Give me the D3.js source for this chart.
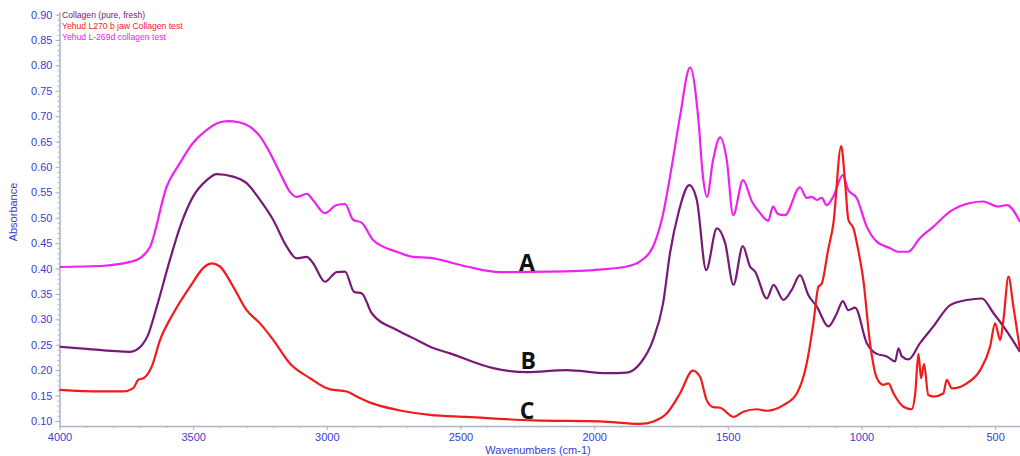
<!DOCTYPE html>
<html>
<head>
<meta charset="utf-8">
<script src="https://cdn.jsdelivr.net/npm/d3@7"></script>
<style>
  html, body { margin: 0; padding: 0; background: #fff; }
  svg { display: block; font-family: "Liberation Sans", Arial, sans-serif; }
  .axis path, .axis line { stroke: #aab2cc; }
  .axis text { fill: #3c3cd2; font-size: 11px; }
</style>
</head>
<body>
<svg id="chart" width="1020" height="456"></svg>
<script>
// FTIR spectra (wavenumber cm-1, absorbance)
const seriesNames = ['Collagen (pure, fresh)', 'Yehud L270 b jaw Collagen test', 'Yehud L-269d collagen test']
const seriesColors = ['#761a76', '#f21a1a', '#ee22ee']

// A: Yehud L-269d (magenta)
const waveA = [4000, 3848, 3736, 3692, 3661, 3599, 3549, 3501, 3449, 3405, 3370, 3330, 3287, 3250, 3212, 3175, 3138, 3113, 3075, 3052, 3007, 2963, 2932, 2902, 2869, 2827, 2739, 2677, 2614, 2477, 2352, 2165, 1978, 1878, 1828, 1780, 1747, 1710, 1679, 1641, 1611, 1593, 1578, 1555, 1529, 1504, 1480, 1443, 1410, 1379, 1349, 1331, 1312, 1286, 1230, 1205, 1186, 1167, 1149, 1130, 1106, 1070, 1050, 1018, 980, 943, 893, 863, 826, 781, 732, 669, 594, 545, 489, 456, 407]
const absA = [0.403, 0.405, 0.413, 0.423, 0.443, 0.561, 0.608, 0.647, 0.673, 0.687, 0.690, 0.688, 0.679, 0.660, 0.627, 0.588, 0.551, 0.541, 0.547, 0.535, 0.509, 0.525, 0.527, 0.496, 0.490, 0.456, 0.433, 0.423, 0.421, 0.404, 0.393, 0.394, 0.398, 0.404, 0.414, 0.443, 0.496, 0.600, 0.699, 0.796, 0.699, 0.581, 0.541, 0.614, 0.658, 0.614, 0.505, 0.574, 0.532, 0.509, 0.494, 0.522, 0.507, 0.505, 0.560, 0.539, 0.541, 0.535, 0.539, 0.525, 0.541, 0.584, 0.555, 0.539, 0.482, 0.453, 0.440, 0.433, 0.433, 0.460, 0.482, 0.512, 0.529, 0.532, 0.522, 0.525, 0.492]

// B: Collagen pure, fresh (purple)
const waveB = [4000, 3923, 3736, 3692, 3669, 3636, 3587, 3549, 3501, 3449, 3412, 3351, 3300, 3250, 3201, 3150, 3113, 3075, 3052, 3007, 2963, 2932, 2898, 2869, 2832, 2738, 2677, 2614, 2539, 2378, 2252, 2103, 1953, 1878, 1828, 1780, 1742, 1716, 1685, 1644, 1616, 1581, 1541, 1510, 1479, 1444, 1417, 1398, 1354, 1329, 1292, 1261, 1230, 1199, 1167, 1124, 1092, 1070, 1049, 1024, 980, 943, 905, 874, 862, 849, 824, 781, 731, 668, 606, 550, 506, 469, 407]
const absB = [0.246, 0.243, 0.236, 0.249, 0.269, 0.325, 0.417, 0.482, 0.541, 0.574, 0.586, 0.581, 0.568, 0.535, 0.496, 0.443, 0.420, 0.423, 0.411, 0.374, 0.393, 0.394, 0.354, 0.351, 0.312, 0.279, 0.263, 0.246, 0.233, 0.204, 0.196, 0.200, 0.194, 0.195, 0.213, 0.259, 0.332, 0.431, 0.509, 0.564, 0.535, 0.397, 0.479, 0.450, 0.368, 0.444, 0.404, 0.394, 0.341, 0.368, 0.338, 0.358, 0.387, 0.348, 0.325, 0.286, 0.312, 0.336, 0.318, 0.323, 0.253, 0.232, 0.227, 0.217, 0.243, 0.227, 0.221, 0.253, 0.286, 0.328, 0.338, 0.341, 0.312, 0.286, 0.236]

// C: Yehud L270 b jaw (red)
const waveC = [4000, 3848, 3762, 3725, 3705, 3686, 3655, 3624, 3574, 3512, 3456, 3431, 3400, 3350, 3300, 3250, 3200, 3138, 3063, 2988, 2926, 2888, 2838, 2739, 2614, 2477, 2227, 1978, 1828, 1778, 1728, 1679, 1631, 1604, 1579, 1554, 1529, 1479, 1442, 1392, 1354, 1292, 1242, 1205, 1180, 1161, 1149, 1125, 1105, 1076, 1061, 1049, 1030, 1012, 993, 968, 943, 918, 899, 880, 843, 812, 799, 787, 777, 766, 750, 731, 694, 681, 662, 606, 556, 519, 500, 481, 469, 450, 432, 407]
const absC = [0.161, 0.158, 0.158, 0.164, 0.181, 0.184, 0.207, 0.259, 0.312, 0.364, 0.404, 0.410, 0.404, 0.364, 0.318, 0.292, 0.259, 0.213, 0.184, 0.162, 0.158, 0.148, 0.136, 0.122, 0.112, 0.108, 0.101, 0.099, 0.094, 0.099, 0.115, 0.154, 0.199, 0.187, 0.141, 0.127, 0.126, 0.108, 0.118, 0.123, 0.120, 0.131, 0.154, 0.213, 0.292, 0.364, 0.370, 0.436, 0.489, 0.641, 0.568, 0.496, 0.479, 0.436, 0.377, 0.253, 0.185, 0.171, 0.174, 0.154, 0.128, 0.123, 0.154, 0.232, 0.184, 0.212, 0.151, 0.148, 0.154, 0.181, 0.164, 0.174, 0.200, 0.246, 0.292, 0.259, 0.299, 0.384, 0.326, 0.240]

const yTicks = d3.range(0.10, 0.9001, 0.05)
const xTicks = [4000, 3500, 3000, 2500, 2000, 1500, 1000, 500]
const curveLabels = ['A', 'B', 'C']
const labelWave = [2251, 2247, 2251]
const labelAbs = [0.413, 0.220, 0.121]

const svg = d3.select('#chart')
const x = d3.scaleLinear().domain([4000, 407]).range([59.5, 1020])
const y = d3.scaleLinear().domain([0.09, 0.905]).range([426, 12])

// axes
const yMinor = svg.append('g')
  .attr('class', 'axis')
  .attr('transform', 'translate(59.5,0)')
  .call(d3.axisLeft(y).tickValues(d3.range(0.10, 0.9001, 0.01)).tickSize(2).tickFormat(''))
yMinor.select('.domain').remove()

svg.append('g')
  .attr('class', 'axis')
  .attr('transform', 'translate(59.5,0)')
  .call(d3.axisLeft(y).tickValues(yTicks).tickSize(4).tickSizeOuter(0).tickFormat(d3.format('.2f')))

const xMinor = svg.append('g')
  .attr('class', 'axis')
  .attr('transform', 'translate(0,426)')
  .call(d3.axisBottom(x).tickValues(d3.range(4000, 450, -100)).tickSize(2).tickFormat(''))
xMinor.select('.domain').remove()

svg.append('g')
  .attr('class', 'axis')
  .attr('transform', 'translate(0,426)')
  .call(d3.axisBottom(x).tickValues(xTicks).tickSize(4).tickSizeOuter(0).tickFormat(d3.format('d')))

svg.selectAll('.axis .domain').attr('stroke-width', 1.5)

svg.append('text')
  .attr('transform', 'translate(17,212) rotate(-90)')
  .attr('text-anchor', 'middle')
  .attr('fill', '#3c3cd2')
  .style('font-size', '11px')
  .text('Absorbance')

svg.append('text')
  .attr('x', 538)
  .attr('y', 454)
  .attr('text-anchor', 'middle')
  .attr('fill', '#3c3cd2')
  .style('font-size', '11px')
  .text('Wavenumbers (cm-1)')

// spectra
const line = d3.line()
  .x(d => x(d[0]))
  .y(d => y(d[1]))
  .curve(d3.curveMonotoneX)

const spectra = [
  { color: seriesColors[2], pts: d3.zip(waveA, absA) },
  { color: seriesColors[0], pts: d3.zip(waveB, absB) },
  { color: seriesColors[1], pts: d3.zip(waveC, absC) }
]

svg.append('g')
  .selectAll('path')
  .data(spectra)
  .enter()
  .append('path')
  .attr('d', d => line(d.pts))
  .attr('fill', 'none')
  .attr('stroke', d => d.color)
  .attr('stroke-width', 2.2)
  .attr('stroke-linejoin', 'round')

// A / B / C annotations
svg.append('g')
  .selectAll('text')
  .data(curveLabels)
  .enter()
  .append('text')
  .attr('x', (d, i) => x(labelWave[i]))
  .attr('y', (d, i) => y(labelAbs[i]))
  .attr('text-anchor', 'middle')
  .attr('dominant-baseline', 'central')
  .style('font-family', '"Open Sans", sans-serif')
  .style('font-weight', 'bold')
  .style('font-size', '23px')
  .attr('fill', '#111')
  .text(d => d)

// legend
svg.append('g')
  .selectAll('text')
  .data(seriesNames)
  .enter()
  .append('text')
  .attr('x', 62)
  .attr('y', (d, i) => 18 + i * 11)
  .attr('fill', (d, i) => seriesColors[i])
  .style('font-size', '8.6px')
  .text(d => d)
</script>
</body>
</html>
